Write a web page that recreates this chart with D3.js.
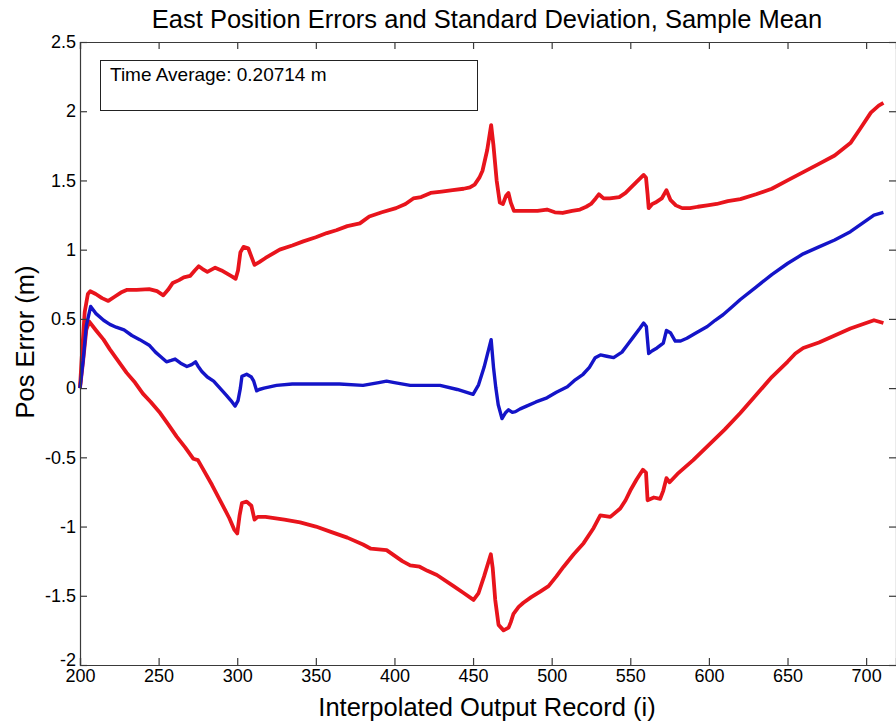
<!DOCTYPE html>
<html>
<head>
<meta charset="utf-8">
<script src="https://cdn.jsdelivr.net/npm/d3@7"></script>
<style>
  html, body { margin: 0; padding: 0; background: #fff; }
  svg { display: block; font-family: "Liberation Sans", Arial, sans-serif; }
</style>
</head>
<body>
<svg id="chart" width="896" height="725"></svg>
<script>
// Axis ticks
const xTicks = [200, 250, 300, 350, 400, 450, 500, 550, 600, 650, 700];
const yTicks = [-2, -1.5, -1, -0.5, 0, 0.5, 1, 1.5, 2, 2.5];

// Sample mean of the east position error (m) vs. record index
const meanError = [
  [200,0],[202,0.2],[204,0.45],[206.8,0.59],[210,0.54],[215,0.49],[219,0.46],[223,0.44],[228,0.42],
  [233,0.38],[238,0.35],[244,0.31],[248,0.26],[251,0.23],[255,0.19],[258,0.20],[260.5,0.21],[264,0.18],
  [268,0.156],[271,0.17],[273.5,0.19],[275,0.16],[277.5,0.12],[281,0.08],[285,0.05],[289,0.0],[293,-0.05],
  [296,-0.09],[298.6,-0.13],[300.5,-0.09],[302,0.0],[303,0.085],[306,0.10],[309,0.08],[310.5,0.05],
  [312.4,-0.02],[314,-0.01],[317,0.0],[325,0.02],[335,0.03],[350,0.03],[365,0.03],[380,0.02],[390,0.04],
  [395,0.05],[400,0.04],[410,0.02],[420,0.02],[429,0.02],[440,-0.01],[450,-0.045],[453.5,0.024],[457,0.15],
  [461.5,0.35],[463,0.15],[464.5,0.0],[466,-0.12],[468.4,-0.22],[470.5,-0.18],[472.6,-0.157],[475,-0.175],
  [477,-0.17],[480,-0.15],[484,-0.13],[490,-0.10],[497,-0.07],[503,-0.03],[510,0.01],[515,0.06],[520,0.10],
  [524,0.15],[527.7,0.22],[531,0.24],[535,0.23],[539.4,0.22],[544.7,0.26],[548,0.31],[552,0.37],[556,0.43],
  [558.5,0.47],[560.2,0.445],[561.7,0.25],[564,0.27],[567,0.29],[571,0.325],[573,0.416],[575.5,0.40],
  [578.6,0.34],[582,0.34],[586,0.36],[592,0.40],[599,0.445],[604,0.49],[609,0.53],[615,0.59],[620,0.64],
  [630,0.73],[640,0.82],[650,0.90],[660,0.97],[670,1.02],[680,1.07],[690,1.13],[700,1.21],[705,1.25],[711,1.27]
];

// Mean + 1 sigma bound
const upperBound = [
  [200,0],[201,0.2],[203,0.55],[205,0.68],[206.5,0.70],[210,0.68],[214,0.65],[218,0.63],[222,0.66],
  [226,0.69],[230,0.71],[236,0.71],[244,0.715],[249,0.70],[253,0.67],[256,0.71],[259,0.76],[263,0.78],
  [266,0.80],[270,0.81],[273,0.85],[275.5,0.88],[278,0.86],[281,0.84],[286,0.87],[290,0.85],[293,0.83],
  [296,0.81],[299,0.79],[300.5,0.85],[302,0.98],[304,1.02],[307,1.01],[309,0.95],[311,0.89],[314,0.91],
  [318,0.94],[321,0.96],[327,1.0],[335,1.03],[342,1.06],[350,1.09],[357,1.12],[363,1.14],[370,1.17],
  [378,1.19],[384,1.24],[392,1.27],[401,1.30],[407,1.33],[412,1.37],[417,1.38],[423,1.41],[430,1.42],
  [437,1.43],[444,1.44],[448,1.45],[451,1.47],[454,1.52],[456,1.57],[459,1.72],[461.5,1.90],[463,1.75],
  [465,1.50],[467,1.34],[469,1.33],[471,1.39],[472.5,1.41],[474,1.34],[476,1.28],[481,1.28],[486,1.28],
  [491,1.28],[497,1.29],[502,1.27],[507,1.265],[513,1.28],[518,1.29],[522,1.31],[525,1.33],[528,1.37],
  [530,1.40],[533,1.37],[537,1.37],[543,1.38],[547,1.41],[550,1.445],[554,1.49],[558.5,1.54],[560,1.52],
  [561,1.40],[561.7,1.30],[564,1.33],[566,1.34],[570,1.37],[573,1.43],[575.5,1.36],[579,1.32],[583,1.30],
  [588,1.30],[593,1.31],[599,1.32],[605,1.33],[612,1.35],[620,1.365],[630,1.40],[640,1.44],[650,1.50],
  [660,1.56],[670,1.62],[680,1.68],[690,1.77],[696,1.87],[703,1.99],[708,2.04],[711,2.06]
];

// Mean - 1 sigma bound
const lowerBound = [
  [200,0],[202,0.2],[204,0.42],[205.9,0.48],[210,0.42],[215,0.35],[219,0.28],[224,0.20],[229.7,0.11],
  [235,0.04],[240,-0.04],[245,-0.10],[251,-0.18],[256,-0.26],[261.5,-0.35],[267,-0.43],[272,-0.51],
  [275,-0.52],[278,-0.58],[284,-0.70],[290,-0.83],[295,-0.94],[298,-1.02],[300,-1.05],[301.5,-0.92],
  [303,-0.83],[306,-0.82],[309,-0.85],[311,-0.95],[313,-0.93],[318,-0.93],[330,-0.95],[340,-0.97],
  [350,-1.0],[360,-1.04],[370,-1.08],[380,-1.13],[385,-1.16],[395,-1.17],[400,-1.21],[405,-1.25],
  [410,-1.28],[416,-1.29],[421,-1.32],[427,-1.35],[437.6,-1.43],[444,-1.48],[450.3,-1.53],[453.5,-1.48],
  [457,-1.36],[461.3,-1.20],[462.5,-1.30],[464.1,-1.53],[466.2,-1.71],[469.4,-1.75],[472.6,-1.73],
  [474,-1.69],[475.7,-1.63],[479,-1.58],[482,-1.55],[487,-1.51],[492.7,-1.47],[498,-1.43],[503,-1.36],
  [507.6,-1.29],[514,-1.20],[520.3,-1.12],[526.7,-1.01],[530.9,-0.92],[537.3,-0.93],[543.6,-0.87],
  [547,-0.81],[550,-0.74],[554,-0.66],[558,-0.59],[560,-0.61],[561,-0.81],[565,-0.79],[569,-0.80],
  [571,-0.74],[573,-0.65],[575,-0.68],[580,-0.62],[590,-0.52],[600,-0.41],[610,-0.30],[620,-0.18],
  [630,-0.05],[640,0.08],[650,0.19],[655,0.25],[660,0.29],[670,0.33],[680,0.38],[690,0.43],[700,0.47],
  [705,0.49],[711,0.47]
];

const timeAverage = "0.20714";

const svg = d3.select("#chart");
const plotLeft = 80, plotRight = 896, plotTop = 42, plotBottom = 665;

const x = d3.scaleLinear().domain([200, 719]).range([plotLeft, plotRight]);
const y = d3.scaleLinear().domain([-2, 2.5]).range([plotBottom, plotTop]);

const axisColor = "#3a3a3a";
const tickLen = 7;
const font = '"Liberation Sans", Arial, sans-serif';

// Data lines
const line = d3.line().x(d => x(d[0])).y(d => y(d[1])).curve(d3.curveLinear);
const plot = svg.append("g");
plot.append("path").datum(upperBound).attr("d", line)
  .attr("fill", "none").attr("stroke", "#e8141c").attr("stroke-width", 3.8).attr("stroke-linejoin", "round");
plot.append("path").datum(lowerBound).attr("d", line)
  .attr("fill", "none").attr("stroke", "#e8141c").attr("stroke-width", 3.8).attr("stroke-linejoin", "round");
plot.append("path").datum(meanError).attr("d", line)
  .attr("fill", "none").attr("stroke", "#1414c8").attr("stroke-width", 3.4).attr("stroke-linejoin", "round");

// Axes (ticks pointing inward, box on all sides)
const fmt = d => String(d);
const gx = svg.append("g").attr("transform", `translate(0,${plotBottom})`)
  .call(d3.axisBottom(x).tickValues(xTicks).tickSize(-tickLen).tickPadding(4).tickFormat(fmt));
const gxTop = svg.append("g").attr("transform", `translate(0,${plotTop})`)
  .call(d3.axisTop(x).tickValues(xTicks).tickSize(-tickLen).tickFormat(""));
const gy = svg.append("g").attr("transform", `translate(${plotLeft},0)`)
  .call(d3.axisLeft(y).tickValues(yTicks).tickSize(-tickLen).tickPadding(4).tickFormat(fmt));
const gyRight = svg.append("g").attr("transform", `translate(${plotRight},0)`)
  .call(d3.axisRight(y).tickValues(yTicks).tickSize(-tickLen).tickFormat(""));

[gx, gxTop, gy, gyRight].forEach(g => {
  g.select(".domain").attr("stroke", axisColor).attr("stroke-width", 1.2);
  g.selectAll(".tick line").attr("stroke", axisColor).attr("stroke-width", 1.2);
  g.selectAll(".tick text").attr("fill", "#000").style("font-size", "18px").style("font-family", font);
});
// lowest y label sits just above the corner, clear of the first x label
gy.selectAll(".tick text").filter(d => d === -2).attr("dy", "0.05em");

// Annotation box
svg.append("rect").attr("x", 100.5).attr("y", 60.5).attr("width", 377).attr("height", 50)
  .attr("fill", "#fff").attr("stroke", "#222").attr("stroke-width", 1);
svg.append("text").attr("x", 110).attr("y", 81).attr("font-size", 19).attr("fill", "#000")
  .text(`Time Average: ${timeAverage} m`);

// Titles
svg.append("text").attr("x", 487).attr("y", 28).attr("text-anchor", "middle")
  .attr("font-size", 25.5).attr("fill", "#000")
  .text("East Position Errors and Standard Deviation, Sample Mean");
svg.append("text").attr("x", 487).attr("y", 716).attr("text-anchor", "middle")
  .attr("font-size", 25.5).attr("fill", "#000")
  .text("Interpolated Output Record (i)");
svg.append("text").attr("transform", "translate(34,342) rotate(-90)").attr("text-anchor", "middle")
  .attr("font-size", 25.5).attr("fill", "#000")
  .text("Pos Error (m)");
</script>
</body>
</html>
